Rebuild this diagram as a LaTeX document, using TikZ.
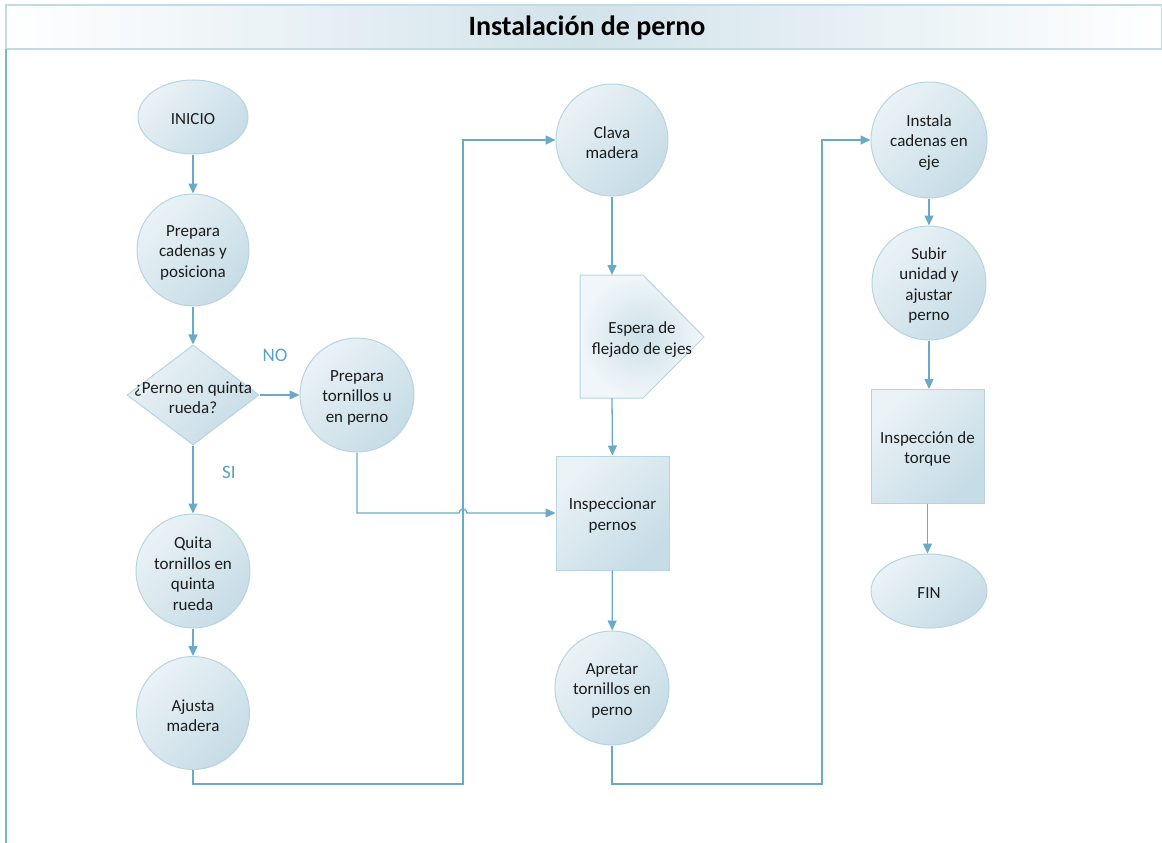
\documentclass[tikz,border=0pt]{standalone}
\usepackage{fontspec}
\setmainfont{Carlito}
\usetikzlibrary{arrows.meta,shapes.geometric}

\definecolor{connc}{HTML}{6AAAC8}
\definecolor{edgec}{HTML}{B6D5E0}
\definecolor{fillL}{HTML}{EAF2F6}
\definecolor{fillD}{HTML}{C6DCE6}
\definecolor{lblc}{HTML}{5BA1C1}
\definecolor{ink}{HTML}{1C1C1C}
\definecolor{barmid}{HTML}{D2E3EA}
\definecolor{baredge}{HTML}{C0DCE5}
\definecolor{framec}{HTML}{78B5CF}

\begin{document}
\begin{tikzpicture}[x=1pt,y=-1pt,
  shp/.style={draw=edgec, line width=1pt, top color=fillL, bottom color=fillD,
              shading angle=45, inner sep=0pt},
  circ/.style={shp, circle, minimum size=114pt},
  ell/.style={shp, ellipse, minimum width=110pt, minimum height=74pt},
  box/.style={shp, rectangle, minimum width=113pt, minimum height=114pt},
  dec/.style={shp, diamond, minimum width=132pt, minimum height=100pt},
  txt/.style={text=ink, align=center, inner sep=0pt, yshift=-2.5pt,
              font=\fontsize{17}{20.5}\selectfont},
  lbl/.style={text=lblc, inner sep=0pt, font=\fontsize{19}{22}\selectfont},
  conn/.style={draw=connc, line width=1.3pt,
               -{Triangle[length=10pt,width=9pt]}}
]
\useasboundingbox (0,0) rectangle (1162,843);

% title bar and page frame
\path[draw=baredge, line width=1.5pt, left color=white, right color=white,
      middle color=barmid] (6,5) rectangle (1162,49);
\node[font=\fontsize{28}{32}\selectfont\bfseries, text=black] (title) at (587,28)
  {Instalación de perno};
\draw[framec, line width=2pt] (6,49) -- (6,843);

% first column
\node[ell, label={[txt]center:INICIO}] (inicio) at (193,117) {};
\node[circ, minimum size=112pt, label={[txt]center:Prepara\\cadenas y\\posiciona}] (prep) at (193,250) {};
\node[dec, label={[txt]center:¿Perno en quinta\\rueda?}] (dia) at (193,395) {};
\node[circ, label={[txt]center:Prepara\\tornillos u\\en perno}] (ptorn) at (357,395) {};
\node[circ, label={[txt]center:Quita\\tornillos en\\quinta\\rueda}] (quita) at (193,571) {};
\node[circ, minimum size=113pt, label={[txt]center:Ajusta\\madera}] (ajusta) at (193,713) {};

\node[lbl] (no) at (275,355) {NO};
\node[lbl] (si) at (229,472) {SI};

% second column
\node[circ, minimum size=112pt, label={[txt]center:Clava\\madera}] (clava) at (612,140) {};
\path[draw=edgec, line width=1pt, inner color=fillD!80!fillL, outer color=fillL!70!white]
  (580,275) -- (643,275) -- (704,337) -- (643,398) -- (580,398) -- cycle;
\node[txt] (esp) at (642,337) {Espera de\\flejado de ejes};
\coordinate (espN) at (612,275);
\coordinate (espS) at (612,398);
\node[box, label={[txt]center:Inspeccionar\\pernos}] (insp) at (612.5,513) {};
\node[circ, label={[txt]center:Apretar\\tornillos en\\perno}] (apretar) at (612,688) {};

% third column
\node[circ, minimum size=116pt, label={[txt]center:Instala\\cadenas en\\eje}] (instala) at (929,140) {};
\node[circ, label={[txt]center:Subir\\unidad y\\ajustar\\perno}] (subir) at (929,283) {};
\node[box, label={[txt]center:Inspección de\\torque}] (torque) at (927.5,446.5) {};
\node[ell, minimum width=116pt, label={[txt]center:FIN}] (fin) at (929,591) {};

% bends of the long connectors
\coordinate (b1) at (463,784);
\coordinate (b2) at (822,784);
\coordinate (hop) at (463,513);

% connectors
\draw[conn] (inicio) -- (prep);
\draw[conn] (prep) -- (dia);
\draw[conn] (dia.east) -- (ptorn.west);
\draw[conn] (dia) -- (quita);
\draw[conn] (quita) -- (ajusta);
\draw[conn] (ajusta.south) |- (b1) |- (clava.west);
\draw[conn] (ptorn.south) |- ([xshift=-4pt]hop)
  arc[start angle=180, end angle=0, radius=4pt] -- (insp.west);
\draw[conn] (clava.south) -- (espN);
\draw[conn] (espS) -- (insp.north);
\draw[conn] (insp) -- (apretar);
\draw[conn] (apretar.south) |- (b2) |- (instala.west);
\draw[conn] (instala) -- (subir);
\draw[conn] (subir.south) -- (subir.south |- torque.north);
\draw[conn] (torque.south) -- (torque.south |- fin.north);
\end{tikzpicture}
\end{document}
